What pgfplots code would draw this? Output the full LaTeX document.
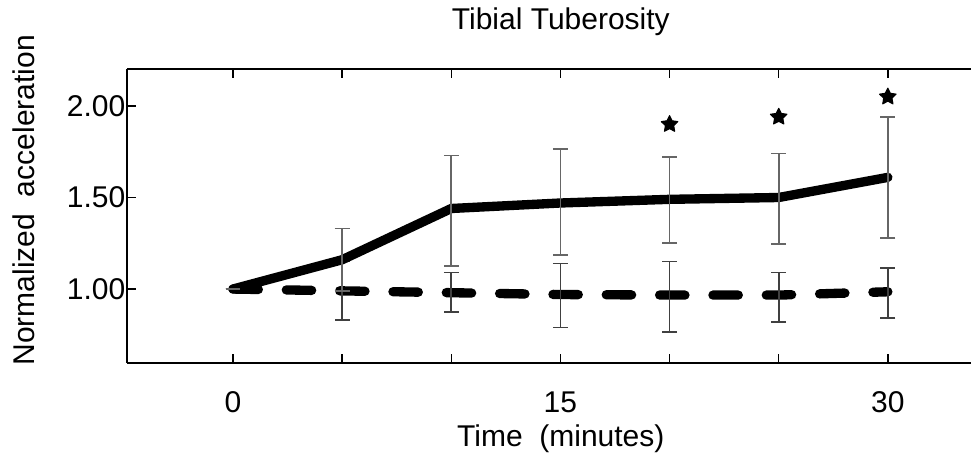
\documentclass[border=0pt]{standalone}
\usepackage{pgfplots}
\pgfplotsset{compat=1.18}
\usepackage{pgfplotstable}
\usepackage{fontspec}
\setmainfont{Liberation Sans}

% filled five-pointed star used for the significance marks
\pgfdeclareplotmark{fstar}{%
  \pgfpathmoveto{\pgfpointpolar{90}{\pgfplotmarksize}}%
  \pgfpathlineto{\pgfpointpolar{126}{0.5\pgfplotmarksize}}%
  \pgfpathlineto{\pgfpointpolar{162}{\pgfplotmarksize}}%
  \pgfpathlineto{\pgfpointpolar{198}{0.5\pgfplotmarksize}}%
  \pgfpathlineto{\pgfpointpolar{234}{\pgfplotmarksize}}%
  \pgfpathlineto{\pgfpointpolar{270}{0.5\pgfplotmarksize}}%
  \pgfpathlineto{\pgfpointpolar{306}{\pgfplotmarksize}}%
  \pgfpathlineto{\pgfpointpolar{342}{0.5\pgfplotmarksize}}%
  \pgfpathlineto{\pgfpointpolar{18}{\pgfplotmarksize}}%
  \pgfpathlineto{\pgfpointpolar{54}{0.5\pgfplotmarksize}}%
  \pgfpathclose
  \pgfusepathqfillstroke}

% time (min), mean, upper and lower error
\pgfplotstableread{
t   m     ep     em
0   1.00  0      0
5   1.16  0.17   0.17
10  1.44  0.29   0.315
15  1.47  0.295  0.285
20  1.49  0.23   0.24
25  1.50  0.24   0.255
30  1.61  0.33   0.33
}\treated
\pgfplotstableread{
t   m     ep     em
0   1.00  0      0
5   0.99  0.16   0.16
10  0.98  0.11   0.105
15  0.97  0.17   0.18
20  0.967 0.183  0.202
25  0.967 0.123  0.147
30  0.985 0.13   0.145
}\control
\pgfplotstableread{
t   s
20  1.90
25  1.94
30  2.05
}\signif

\begin{document}
\begin{tikzpicture}
\begin{axis}[
  scale only axis,
  width=633pt, height=220.5pt,
  xmin=-4.856, xmax=33.81,
  ymin=0.596, ymax=2.202,
  axis y line*=left,
  axis x line*=box,
  axis line style={line width=1pt},
  tick style={line width=1pt, black},
  tick align=inside,
  major tick length=6.5pt,
  xtick={0,5,10,15,20,25,30},
  xticklabels={0,,,15,,,30},
  ytick={1,1.5,2},
  y tick label style={/pgf/number format/fixed,
    /pgf/number format/fixed zerofill, /pgf/number format/precision=2},
  /pgf/number format/assume math mode=true,
  tick label style={font=\fontsize{22.5}{27}\selectfont},
  xticklabel style={anchor=base, yshift=-37.5pt},
  yticklabel style={xshift=2.25pt},
  title={Tibial Tuberosity},
  title style={font=\fontsize{22.5}{27}\selectfont,
    at={(axis description cs:0.514,1)}, anchor=base, yshift=23.25pt},
  xlabel={Time\ \ (minutes)},
  xlabel style={font=\fontsize{22.5}{27}\selectfont,
    at={(axis description cs:0.514,0)}, anchor=base, yshift=-62.25pt},
  ylabel={Normalized\ \ acceleration},
  ylabel style={font=\fontsize{22.5}{27}\selectfont,
    at={(axis description cs:-0.110,-0.024)}, rotate=0, anchor=base west},
  clip=false,
]
% control condition: dashed line
\addplot[black, line width=7pt, line cap=round, dash pattern=on 19pt off 21pt,
  error bars/.cd, y dir=both, y explicit,
  error bar style={solid, line width=1.3pt, black!75, line cap=butt},
  error mark options={rotate=90, mark size=5.6pt, line width=1.3pt, black!75}]
  table[x=t, y=m, y error plus=ep, y error minus=em]{\control};
% treatment condition: solid line
\addplot[black, line width=7pt, line cap=round, line join=round,
  error bars/.cd, y dir=both, y explicit,
  error bar style={line width=1.3pt, black!60, line cap=butt},
  error mark options={rotate=90, mark size=5.6pt, line width=1.3pt, black!60}]
  table[x=t, y=m, y error plus=ep, y error minus=em]{\treated};
% significance marks
\addplot[only marks, mark=fstar, mark size=6.5pt, black, line width=0.8pt,
  line join=round]
  table[x=t, y=s]{\signif};
\end{axis}
\pgfresetboundingbox
\useasboundingbox (-95.25pt,-67.5pt) rectangle (633pt,272.25pt);
\end{tikzpicture}
\end{document}
